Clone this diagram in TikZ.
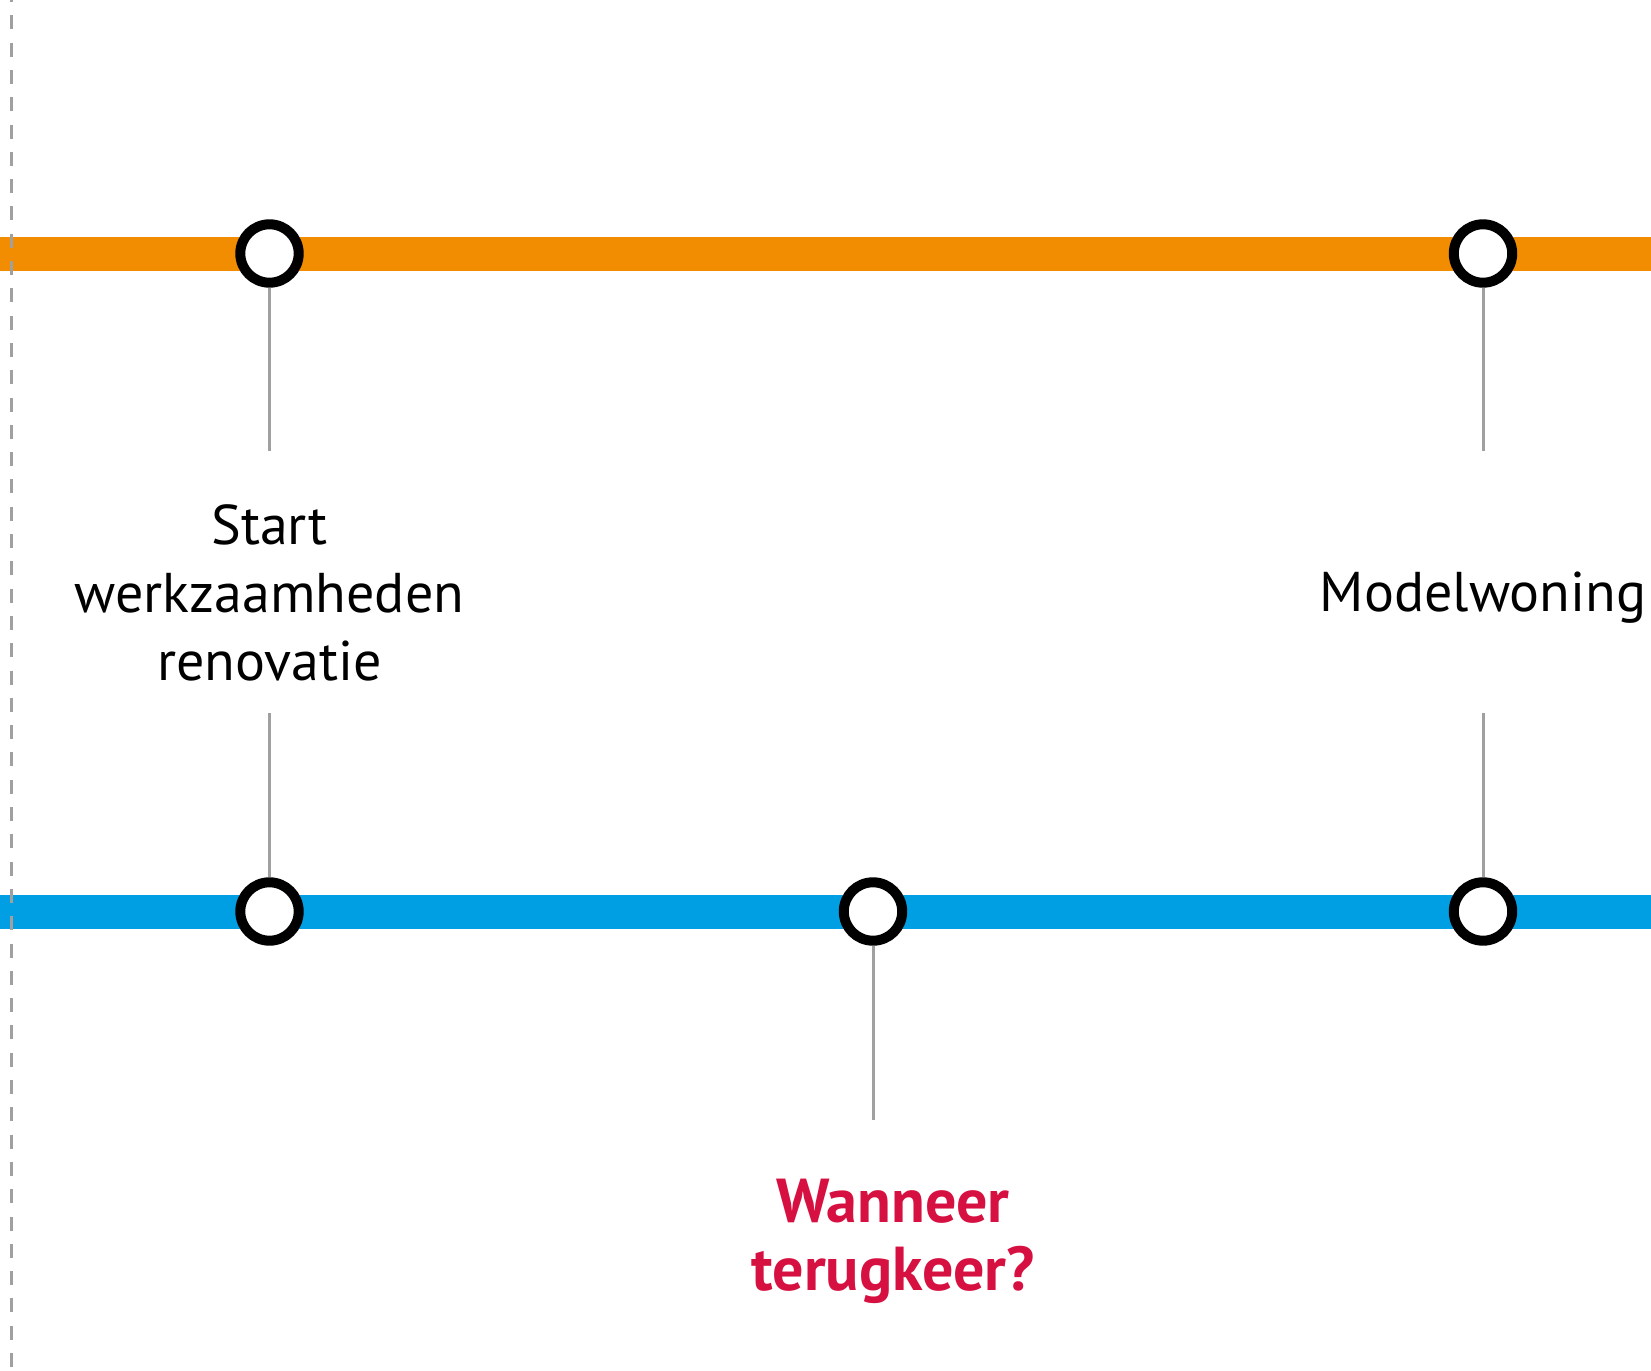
\documentclass[tikz,border=0pt]{standalone}
\usepackage{fontspec}
\setmainfont{PT Sans}
\begin{document}
\begin{tikzpicture}[x=0.5pt,y=-0.5pt]
\definecolor{band1}{RGB}{242,140,0}
\definecolor{band2}{RGB}{0,159,227}
\definecolor{conn}{RGB}{160,160,160}
\definecolor{ask}{RGB}{214,16,64}
\tikzset{
  stop/.style={circle,draw=black,fill=white,line width=5pt,minimum size=29.2pt,inner sep=0pt},
  bandline/.style={line width=17pt},
  link/.style={draw=conn,line width=1.5pt},
  lbl/.style={font=\fontsize{28pt}{34pt}\selectfont,align=center,inner sep=0pt},
}
\useasboundingbox (0,0) rectangle (1651,1371);
\clip (0,0) rectangle (1651,1371);
\fill[white] (0,0) rectangle (1651,1371);
% bands
\coordinate (oL) at (0,253.5);
\coordinate (oR) at (1651,253.5);
\coordinate (bL) at (0,911.5);
\coordinate (bR) at (1651,911.5);
\draw[band1,bandline] (oL) -- (oR);
\draw[band2,bandline] (bL) -- (bR);
% dashed edge line
\coordinate (dT) at (11.7,-12);
\coordinate (dB) at (11.7,1380);
\draw[conn,line width=1.6pt,dash pattern=on 7pt off 6.65pt] (dT) -- (dB);
% stops
\node[stop] (o1) at (269.5,253.5) {};
\node[stop] (o2) at (1483,253.5) {};
\node[stop] (b1) at (269.5,911.5) {};
\node[stop] (b2) at (873,911.5) {};
\node[stop] (b3) at (1483,911.5) {};
% connector ends
\coordinate (u1) at (269.5,451);
\coordinate (v1) at (269.5,713);
\coordinate (u2) at (1483,451);
\coordinate (v2) at (1483,713);
\coordinate (w2) at (873,1120);
\draw[link] (o1) -- (u1);
\draw[link] (v1) -- (b1);
\draw[link] (o2) -- (u2);
\draw[link] (v2) -- (b3);
\draw[link] (b2) -- (w2);
% labels
\node[lbl,anchor=base] (t1) at (269.5,680) {Start\\werkzaamheden\\renovatie};
\node[lbl,anchor=base] (t2) at (1483,611) {Modelwoning};
\node[lbl,anchor=base,text=ask,font=\fontsize{31pt}{34pt}\selectfont\bfseries] (t3) at (893,1290) {Wanneer\\terugkeer?};
\end{tikzpicture}
\end{document}
